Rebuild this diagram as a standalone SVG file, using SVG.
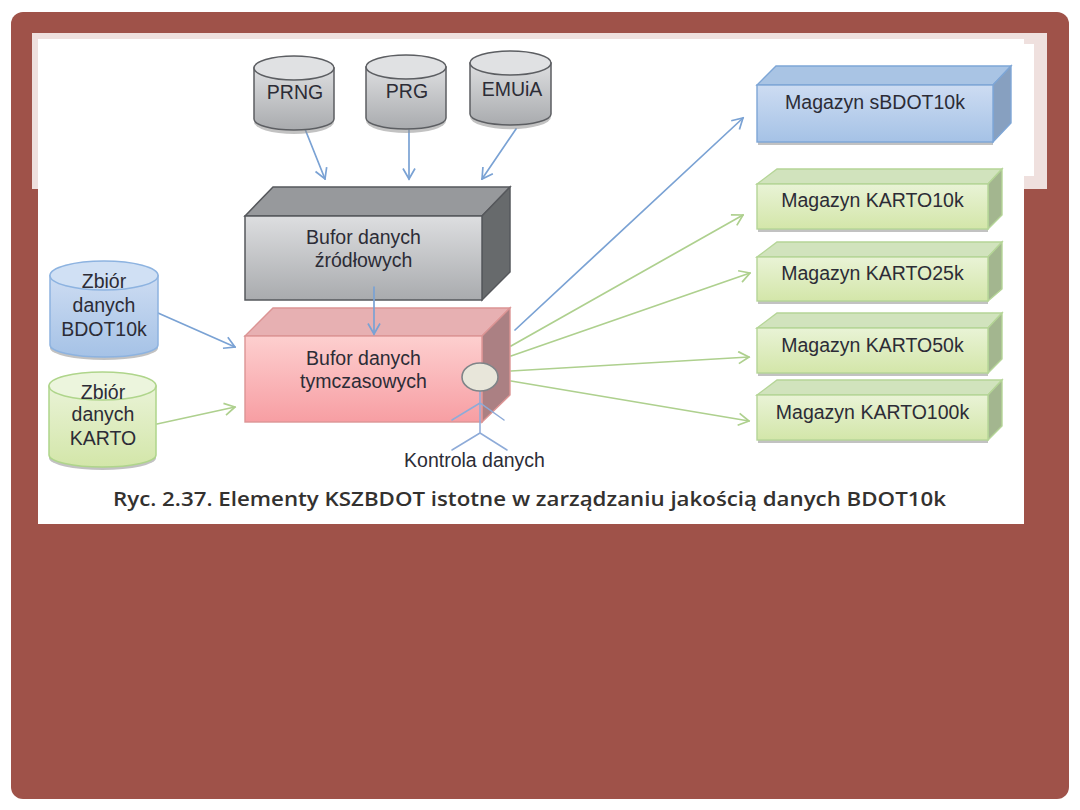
<svg xmlns="http://www.w3.org/2000/svg" width="1080" height="810" viewBox="0 0 1080 810">
  <style>
    text { font-family: "Liberation Sans", Arial, sans-serif; font-size: 19.5px; fill: #2c2c36; text-anchor: middle; }
    .caption { font-family: "Open Sans", "Noto Sans", sans-serif; font-size: 20.5px; font-weight: 600; fill: #33312f; text-anchor: start; }
    .shadow { fill: #8f8f8f; opacity: .55; }
    .flow { fill: none; stroke-width: 1.7; stroke-linecap: round; stroke-linejoin: round; }
    .blue { stroke: #7aa2d4; }
    .green { stroke: #aed08e; }
    .grey-line { stroke: #56585c; stroke-width: 1.5; }
    .pink-line { stroke: #dc9494; stroke-width: 1.4; }
    .blue-line { stroke: #7ea6d6; stroke-width: 1.4; }
    .green-line { stroke: #b5d597; stroke-width: 1.4; }
    .cyl-blue-line { stroke: #8db3e0; stroke-width: 1.5; }
    .cyl-green-line { stroke: #afd58b; stroke-width: 1.5; }
    .cyl-grey-line { stroke: #5c5e62; stroke-width: 1.5; }
    .actor { fill: none; stroke: #8eabd8; stroke-width: 1.5; stroke-linecap: round; }
  </style>
  <defs>
    <linearGradient id="gGrey" x1="0" y1="0" x2="0" y2="1"><stop offset="0" stop-color="#dddee0"/><stop offset="1" stop-color="#a9abae"/></linearGradient>
    <linearGradient id="gPink" x1="0" y1="0" x2="0" y2="1"><stop offset="0" stop-color="#fdcfcf"/><stop offset="1" stop-color="#f79ea3"/></linearGradient>
    <linearGradient id="gBlue" x1="0" y1="0" x2="0" y2="1"><stop offset="0" stop-color="#cddcf2"/><stop offset="1" stop-color="#a5c2e6"/></linearGradient>
    <linearGradient id="gGreen" x1="0" y1="0" x2="0" y2="1"><stop offset="0" stop-color="#e9f3d6"/><stop offset="1" stop-color="#d3e6a9"/></linearGradient>
    <marker id="headBlue" viewBox="0 0 14 14" refX="12.5" refY="7" markerWidth="14" markerHeight="14" markerUnits="userSpaceOnUse" orient="auto">
      <path d="M2 1 L12.5 7 L2 13" fill="none" stroke="#7aa2d4" stroke-width="1.7"/>
    </marker>
    <marker id="headGreen" viewBox="0 0 14 14" refX="12.5" refY="7" markerWidth="14" markerHeight="14" markerUnits="userSpaceOnUse" orient="auto">
      <path d="M2 1 L12.5 7 L2 13" fill="none" stroke="#aed08e" stroke-width="1.7"/>
    </marker>
  </defs>

  <!-- slide card and picture panel -->
  <rect width="1080" height="810" fill="#ffffff"/>
  <rect x="11" y="12" width="1058" height="787" rx="12" fill="#9f5249"/>
  <rect x="32" y="33" width="1015" height="156" fill="#efe0de"/>
  <rect x="38" y="39" width="986" height="485" fill="#ffffff"/>
  <rect x="1024" y="44" width="10" height="132" fill="#ffffff"/>

  <g id="connectors">
    <path class="flow blue" marker-end="url(#headBlue)" d="M305 129 L325 179"/>
    <path class="flow blue" marker-end="url(#headBlue)" d="M409 130 L409 179"/>
    <path class="flow blue" marker-end="url(#headBlue)" d="M516 129 L482 179"/>
    <path class="flow blue" marker-end="url(#headBlue)" d="M158 313 L235 347"/>
    <path class="flow green" marker-end="url(#headGreen)" d="M157 424 L235 407"/>
    <path class="flow blue" marker-end="url(#headBlue)" d="M515 330 L743 118"/>
    <path class="flow green" marker-end="url(#headGreen)" d="M511 346 L743 215"/>
    <path class="flow green" marker-end="url(#headGreen)" d="M511 356 L750 273"/>
    <path class="flow green" marker-end="url(#headGreen)" d="M511 371 L749 357"/>
    <path class="flow green" marker-end="url(#headGreen)" d="M511 381 L749 421"/>
  </g>

  <g id="cyl-prng">
    <path class="shadow" d="M254 84 V120 A40 12 0 0 0 334 120 V84 Z" transform="translate(0 2)"/>
    <path class="cyl-grey-line" fill="url(#gGrey)" d="M254 68 V119 A40 11 0 0 0 334 119 V68 Z"/>
    <ellipse class="cyl-grey-line" cx="294" cy="68" rx="40" ry="12" fill="#e0e1e3"/>
    <text x="295" y="99">PRNG</text>
  </g>
  <g id="cyl-prg">
    <path class="shadow" d="M366 84 V119 A40 12 0 0 0 446 119 V84 Z" transform="translate(0 2)"/>
    <path class="cyl-grey-line" fill="url(#gGrey)" d="M366 67 V118 A40 11 0 0 0 446 118 V67 Z"/>
    <ellipse class="cyl-grey-line" cx="406" cy="67" rx="40" ry="12" fill="#e0e1e3"/>
    <text x="407" y="98">PRG</text>
  </g>
  <g id="cyl-emuia">
    <path class="shadow" d="M470 80 V115 A40 12 0 0 0 551 115 V80 Z" transform="translate(0 2)"/>
    <path class="cyl-grey-line" fill="url(#gGrey)" d="M470 63 V114 A40.5 11 0 0 0 551 114 V63 Z"/>
    <ellipse class="cyl-grey-line" cx="510.500" cy="63" rx="40.500" ry="12" fill="#e0e1e3"/>
    <text x="512" y="96">EMUiA</text>
  </g>

  <g id="box-source">
    <polygon class="grey-line" points="245,216 273,187 510,187 482,216" fill="#97999c"/>
    <polygon class="grey-line" points="482,216 510,187 510,272 482,300" fill="#676a6c"/>
    <rect class="grey-line" x="245" y="216" width="237" height="84" fill="url(#gGrey)"/>
    <text x="363.500" y="244">Bufor danych</text>
    <text x="363.500" y="267">źródłowych</text>
  </g>

  <g id="box-temp">
    <polygon class="pink-line" points="245,336 273,308 510,308 482,336" fill="#e7b0b2"/>
    <polygon class="pink-line" points="482,336 510,308 510,395 482,422" fill="#ab8083"/>
    <rect class="pink-line" x="245" y="336" width="237" height="86" fill="url(#gPink)"/>
    <text x="363.500" y="365">Bufor danych</text>
    <text x="363.500" y="388">tymczasowych</text>
  </g>

  <!-- this arrow runs across the grey box into the pink one -->
  <path class="flow blue" marker-end="url(#headBlue)" d="M374 287 L374 334"/>

  <g id="cyl-bdot">
    <path class="shadow" d="M50 290 V346 A54 12 0 0 0 158 346 V290 Z" transform="translate(0 2)"/>
    <path class="cyl-blue-line" fill="url(#gBlue)" d="M50 275.500 V345 A54 12 0 0 0 158 345 V275.500 Z"/>
    <ellipse class="cyl-blue-line" cx="104" cy="275.500" rx="54" ry="14.500" fill="#d0e0f4"/>
    <text x="104" y="288">Zbiór</text>
    <text x="104" y="312">danych</text>
    <text x="104" y="336">BDOT10k</text>
  </g>
  <g id="cyl-karto">
    <path class="shadow" d="M49 400 V456 A53.500 12 0 0 0 156 456 V400 Z" transform="translate(0 2)"/>
    <path class="cyl-green-line" fill="url(#gGreen)" d="M49 386 V455 A53.500 12 0 0 0 156 455 V386 Z"/>
    <ellipse class="cyl-green-line" cx="102.500" cy="386" rx="53.500" ry="14" fill="#ecf5dd"/>
    <text x="103" y="399">Zbiór</text>
    <text x="103" y="421">danych</text>
    <text x="103" y="445">KARTO</text>
  </g>

  <g id="actor">
    <path class="actor" d="M480 391 V433 M452 420 L480 403 L504 420 M452 450 L480 433 L507 450"/>
    <ellipse cx="480" cy="377" rx="18" ry="14" fill="#e8e6da" stroke="#7f8488" stroke-width="1.6"/>
    <text x="474.500" y="467">Kontrola danych</text>
  </g>

  <g id="store-sbdot">
    <rect class="shadow" x="758" y="142" width="235" height="3"/>
    <polygon class="blue-line" points="757,85 776,66 1011,66 993,85" fill="#a9c4e4"/>
    <polygon class="blue-line" points="993,85 1011,66 1011,123 993,142" fill="#87a0c0"/>
    <rect class="blue-line" x="757" y="85" width="236" height="57" fill="url(#gBlue)"/>
    <text x="875" y="109">Magazyn sBDOT10k</text>
  </g>
  <g id="store-karto10">
    <rect class="shadow" x="758" y="229" width="230" height="3"/>
    <polygon class="green-line" points="757,184 777,169 1002,169 988,184" fill="#d1e3bd"/>
    <polygon class="green-line" points="988,184 1002,169 1002,215 988,229" fill="#a3b68f"/>
    <rect class="green-line" x="757" y="184" width="231" height="45" fill="url(#gGreen)"/>
    <text x="872.500" y="207">Magazyn KARTO10k</text>
  </g>
  <g id="store-karto25">
    <rect class="shadow" x="758" y="301" width="230" height="3"/>
    <polygon class="green-line" points="757,257 777,242 1002,242 988,257" fill="#d1e3bd"/>
    <polygon class="green-line" points="988,257 1002,242 1002,289 988,301" fill="#a3b68f"/>
    <rect class="green-line" x="757" y="257" width="231" height="44" fill="url(#gGreen)"/>
    <text x="872.500" y="280">Magazyn KARTO25k</text>
  </g>
  <g id="store-karto50">
    <rect class="shadow" x="758" y="373" width="230" height="3"/>
    <polygon class="green-line" points="757,328 777,313 1002,313 988,328" fill="#d1e3bd"/>
    <polygon class="green-line" points="988,328 1002,313 1002,359 988,373" fill="#a3b68f"/>
    <rect class="green-line" x="757" y="328" width="231" height="45" fill="url(#gGreen)"/>
    <text x="872.500" y="352">Magazyn KARTO50k</text>
  </g>
  <g id="store-karto100">
    <rect class="shadow" x="758" y="440" width="230" height="3"/>
    <polygon class="green-line" points="757,395 777,380 1002,380 988,395" fill="#d1e3bd"/>
    <polygon class="green-line" points="988,395 1002,380 1002,426 988,440" fill="#a3b68f"/>
    <rect class="green-line" x="757" y="395" width="231" height="45" fill="url(#gGreen)"/>
    <text x="872.500" y="419">Magazyn KARTO100k</text>
  </g>

  <text class="caption" x="113" y="506" textLength="833" lengthAdjust="spacingAndGlyphs">Ryc. 2.37. Elementy KSZBDOT istotne w zarządzaniu jakością danych BDOT10k</text>
</svg>
